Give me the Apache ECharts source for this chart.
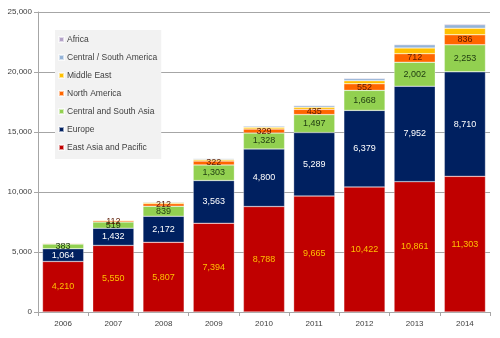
<!DOCTYPE html>
<html>
<head>
<meta charset="utf-8">
<script src="https://cdn.jsdelivr.net/npm/echarts@6/dist/echarts.min.js"></script>
<style>html,body{margin:0;padding:0;background:#fff}#c{width:500px;height:338px}</style>
</head>
<body>
<div id="c"></div>
<script>
// Stacked totals by region, 2006-2014
const years = ['2006','2007','2008','2009','2010','2011','2012','2013','2014'];
const eastAsiaPacific   = [4210, 5550, 5807, 7394, 8788, 9665, 10422, 10861, 11303];
const europe            = [1064, 1432, 2172, 3563, 4800, 5289, 6379, 7952, 8710];
const centralSouthAsia  = [383, 519, 839, 1303, 1328, 1497, 1668, 2002, 2253];
const northAmerica      = [70, 112, 212, 322, 329, 435, 552, 712, 836];
const middleEast        = [40, 60, 100, 120, 150, 180, 250, 480, 550];
const centralSouthAmerica = [20, 30, 60, 80, 100, 130, 180, 260, 290];
const africa            = [10, 10, 30, 25, 40, 50, 60, 70, 70];
const yTicks = [0, 5000, 10000, 15000, 20000, 25000];

const fmt = v => v.toLocaleString('en-US');
const font = 'Liberation Sans';

function seg(name, data, color, labelColor, hideFirst) {
  return {
    name, type: 'bar', stack: 'total', barCategoryGap: '18%',
    itemStyle: { color, borderColor: 'rgba(255,255,255,0.6)', borderWidth: 0.5 },
    data: data.map((v, i) => (labelColor && !(hideFirst && i === 0))
      ? v : { value: v, label: { show: false } }),
    label: labelColor ? {
      show: true, position: 'inside', color: labelColor,
      fontFamily: font, fontSize: 9, formatter: p => fmt(p.value)
    } : { show: false },
    emphasis: { disabled: true }
  };
}

const chart = echarts.init(document.getElementById('c'), null, { renderer: 'canvas' });
chart.setOption({
  animation: false,
  grid: { left: 38, right: 10, top: 12, bottom: 26, containLabel: false },
  legend: {
    orient: 'vertical', left: 55, top: 30,
    backgroundColor: '#F2F2F2', padding: [4, 4, 6, 3],
    itemWidth: 5, itemHeight: 5, itemGap: 7, icon: 'rect',
    textStyle: { fontFamily: font, fontSize: 8.5, lineHeight: 11, color: '#404040', padding: [0, 0, 0, -2] },
    selectedMode: false,
    data: ['Africa', 'Central / South America', 'Middle East', 'North America',
           'Central and South Asia', 'Europe', 'East Asia and Pacific']
  },
  xAxis: {
    type: 'category', data: years,
    axisLine: { lineStyle: { color: '#A6A6A6' } },
    axisTick: { show: true, alignWithLabel: false, length: 4, lineStyle: { color: '#A6A6A6' } },
    axisLabel: { fontFamily: font, fontSize: 8, color: '#404040', margin: 8 }
  },
  yAxis: {
    type: 'value', min: 0, max: 25000, interval: 5000,
    axisLine: { show: true, lineStyle: { color: '#A6A6A6' } },
    axisTick: { show: true, length: 4, inside: false, lineStyle: { color: '#A6A6A6' } },
    axisLabel: { fontFamily: font, fontSize: 8, color: '#404040', margin: 6,
      formatter: v => yTicks.includes(v) ? fmt(v) : '' },
    splitLine: { lineStyle: { color: '#A6A6A6', width: 1 } }
  },
  series: [
    seg('East Asia and Pacific', eastAsiaPacific, '#C00000', '#FFC000'),
    seg('Europe', europe, '#002060', '#FFFFFF'),
    seg('Central and South Asia', centralSouthAsia, '#92D050', '#1E3A10'),
    seg('North America', northAmerica, '#FF6600', '#5A1800', true),
    seg('Middle East', middleEast, '#FFC000', null),
    seg('Central / South America', centralSouthAmerica, '#95B3D7', null),
    seg('Africa', africa, '#B3A2C7', null)
  ]
});
</script>
</body>
</html>
